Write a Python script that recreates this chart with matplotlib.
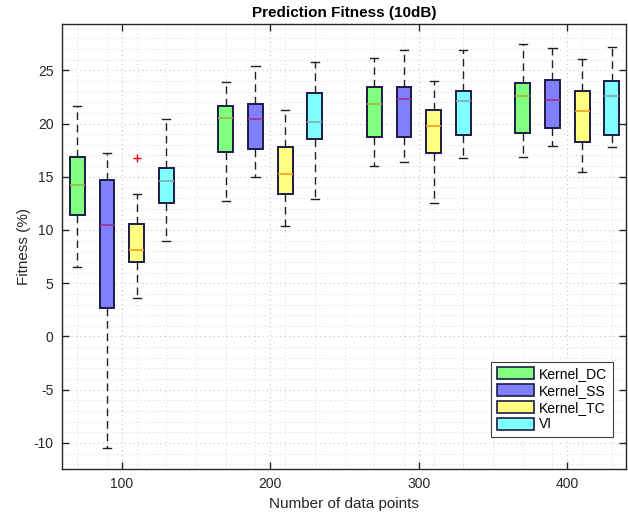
import matplotlib
matplotlib.use("Agg")
import matplotlib.pyplot as plt
from matplotlib.patches import Patch
import numpy as np

plt.rcParams['font.family'] = ['Liberation Sans', 'DejaVu Sans']
plt.rcParams['axes.unicode_minus'] = False

groups = [100, 200, 300, 400]
methods = ["Kernel_DC", "Kernel_SS", "Kernel_TC", "VI"]

# per method: values for groups 100,200,300,400
whislo = {
    "Kernel_DC": [6.5, 12.7, 16.0, 16.9],
    "Kernel_SS": [-10.5, 15.0, 16.4, 17.9],
    "Kernel_TC": [3.6, 10.35, 12.5, 15.45],
    "VI":        [9.0, 12.9, 16.8, 17.8],
}
q1 = {
    "Kernel_DC": [11.4, 17.3, 18.7, 19.1],
    "Kernel_SS": [2.65, 17.6, 18.7, 19.6],
    "Kernel_TC": [7.0, 13.35, 17.25, 18.3],
    "VI":        [12.5, 18.55, 18.9, 18.95],
}
med = {
    "Kernel_DC": [14.2, 20.5, 21.85, 22.6],
    "Kernel_SS": [10.5, 20.4, 22.35, 22.2],
    "Kernel_TC": [8.15, 15.3, 19.75, 21.15],
    "VI":        [14.6, 20.1, 22.1, 22.55],
}
q3 = {
    "Kernel_DC": [16.9, 21.6, 23.45, 23.8],
    "Kernel_SS": [14.7, 21.8, 23.4, 24.05],
    "Kernel_TC": [10.6, 17.75, 21.25, 23.05],
    "VI":        [15.85, 22.85, 23.05, 24.0],
}
whishi = {
    "Kernel_DC": [21.6, 23.9, 26.15, 27.45],
    "Kernel_SS": [17.2, 25.4, 26.9, 27.05],
    "Kernel_TC": [13.4, 21.3, 23.95, 26.1],
    "VI":        [20.45, 25.8, 26.95, 27.2],
}
fliers = {
    "Kernel_DC": [[], [], [], []],
    "Kernel_SS": [[], [], [], []],
    "Kernel_TC": [[16.8], [], [], []],
    "VI":        [[], [], [], []],
}

face = {"Kernel_DC": "#80ff80", "Kernel_SS": "#8080ff",
        "Kernel_TC": "#ffff80", "VI": "#80ffff"}
medc = {"Kernel_DC": "#a8b040", "Kernel_SS": "#a0308a",
        "Kernel_TC": "#f0a020", "VI": "#88a8a8"}
edge = "#1c1c48"
offsets = [-30, -10, 10, 30]

fig = plt.figure(figsize=(6.28, 5.16), dpi=100)
ax = fig.add_axes([0.0987, 0.0911, 0.8981, 0.8624])

for m, off in zip(methods, offsets):
    stats = []
    for i, g in enumerate(groups):
        stats.append(dict(whislo=whislo[m][i], q1=q1[m][i], med=med[m][i],
                          q3=q3[m][i], whishi=whishi[m][i],
                          fliers=fliers[m][i]))
    pos = [g + off for g in groups]
    ax.bxp(stats, positions=pos, widths=10, patch_artist=True,
           showfliers=True, manage_ticks=False,
           boxprops=dict(facecolor=face[m], edgecolor=edge, linewidth=1.4),
           medianprops=dict(color=medc[m], linewidth=1.2),
           whiskerprops=dict(color="#202020", linewidth=1.0,
                             linestyle=(0, (5.5, 3.5))),
           capprops=dict(color="#202020", linewidth=1.0),
           capwidths=5.5,
           flierprops=dict(marker="+", markeredgecolor="red",
                           markersize=6, markeredgewidth=1.0),
           zorder=3)

ax.set_xlim(59.7, 439.5)
ax.set_ylim(-12.45, 29.35)
ax.set_xticks(groups)
ax.set_xticklabels([str(g) for g in groups])
ax.set_yticks(np.arange(-10, 26, 5))
ax.set_xticks(np.arange(70, 440, 20), minor=True)
ax.set_yticks(np.arange(-12, 30, 1), minor=True)

ax.grid(True, which='major', linestyle=(0, (1, 3)), color='#c4c4c4', linewidth=0.8, zorder=0)
ax.grid(True, which='minor', linestyle=(0, (1, 3)), color='#d4d4d4', linewidth=0.7, zorder=0)
ax.set_axisbelow(True)

ax.tick_params(which='major', direction='in', length=5, width=1, top=True, right=True,
               labelsize=10, colors='#262626', pad=6)
ax.tick_params(which='minor', length=0, top=True, right=True)
for s in ax.spines.values():
    s.set_color('#262626')
    s.set_linewidth(1.0)

ax.set_title("Prediction Fitness (10dB)", fontsize=11, fontweight='bold', pad=5)
ax.set_xlabel("Number of data points", fontsize=11, color='#262626', labelpad=4)
ax.set_ylabel("Fitness (%)", fontsize=11, color='#262626', labelpad=2)

handles = [Patch(facecolor=face[m], edgecolor=edge, linewidth=1.2, label=m) for m in methods]
leg = ax.legend(handles=handles, loc='lower right', bbox_to_anchor=(0.977, 0.072),
                fontsize=10, fancybox=False, framealpha=1, edgecolor='#404040',
                handlelength=2.7, handleheight=0.95, handletextpad=0.35,
                labelspacing=0.2, borderpad=0.4, borderaxespad=0)
leg.get_frame().set_linewidth(0.8)

fig.savefig("out.png", dpi=100, facecolor='white')
